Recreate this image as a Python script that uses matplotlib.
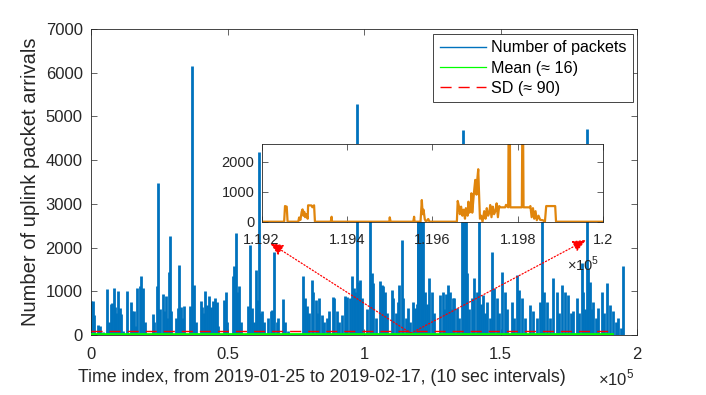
import matplotlib
matplotlib.use("Agg")
import matplotlib.pyplot as plt
from matplotlib.lines import Line2D

plt.rcParams["font.family"] = ["Liberation Sans", "DejaVu Sans"]
plt.rcParams["mathtext.fontset"] = "custom"
plt.rcParams["mathtext.rm"] = "Liberation Sans"

# packet counts (sample index, packets)
spike_idx = [100, 620, 1100, 2560, 3180, 4400, 5860, 6480, 7200, 7690, 8310, 8680, 9280, 9890,
             10500, 11110, 11720, 13190, 14530, 15140, 15750, 16360, 16970, 17830, 18440, 19050,
             19660, 22710, 23080, 24180, 24660, 25150, 26250, 26740, 27350, 27960, 28570, 29060,
             29430, 31250, 31870, 32360, 32850, 33590, 34070, 36260, 37120, 37730, 38340, 40170,
             40780, 41390, 41880, 42610, 43100, 43960, 44570, 45540, 46030, 46640, 48830, 49330,
             49940, 51900, 52380, 53000, 53600, 54330, 54950, 57630, 58360, 58970, 59710, 60440,
             60930, 61420, 61900, 62520, 63490, 64950, 65830, 66190, 67030, 68010, 68620, 70440,
             71060, 72280, 77770, 78500, 79230, 79970, 81070, 81430, 82300, 82900, 83520, 84500,
             85480, 86330, 87290, 88520, 89120, 89990, 90950, 91830, 93040, 93890, 94870, 95730,
             96340, 96830, 97320, 97930, 98530, 99390, 100980, 102200, 103050, 103420, 104270,
             105860, 106470, 107080, 107690, 108300, 110130, 110740, 111720, 112330, 112940,
             113800, 114400, 115270, 115990, 116850, 118070, 118680, 119300, 119750, 119810,
             120300, 120800, 121300, 121600, 122340, 122960, 123910, 124790, 125640, 127840,
             128820, 129410, 130040, 130890, 131500, 132110, 132720, 132970, 133940, 134920,
             135790, 136370, 136870, 137360, 137850, 138570, 139440, 140290, 141280, 142120,
             142860, 143700, 144320, 144950, 146150, 147010, 147730, 148610, 149560, 150660,
             151650, 152500, 154100, 154950, 155930, 156890, 157760, 158970, 160810, 162010,
             163250, 164470, 165080, 165930, 166920, 168130, 169340, 170570, 171430, 172400,
             173630, 174840, 175820, 176670, 178130, 178860, 179740, 180330, 180950, 181570,
             182170, 182780, 183400, 184000, 184980, 185820, 187060, 187910, 188890, 190110,
             191320, 192310, 193150, 194020, 194980]
spike_val = [780, 780, 460, 230, 200, 60, 1055, 300, 720, 727, 1070, 650, 500, 1010,
             610, 475, 100, 1010, 750, 550, 550, 200, 1086, 1110, 1360, 1086,
             300, 490, 300, 1130, 3480, 600, 930, 550, 900, 400, 1450, 2265,
             540, 400, 610, 1600, 630, 400, 665, 665, 6160, 1150, 300, 780,
             630, 500, 1010, 690, 900, 630, 780, 840, 760, 200, 800, 995,
             300, 1340, 1570, 2330, 990, 1130, 300, 665, 2050, 610, 300, 1490,
             800, 4190, 500, 550, 300, 400, 540, 580, 1910, 300, 380, 825,
             300, 100, 1360, 840, 665, 500, 1260, 995, 800, 500, 840, 460,
             300, 380, 540, 880, 840, 540, 300, 460, 900, 880, 840, 1340,
             1070, 995, 5295, 1220, 1260, 840, 600, 3000, 1415, 1190, 400,
             1240, 1150, 1110, 995, 500, 1030, 840, 500, 765, 1150,
             2180, 840, 400, 610, 300, 765, 610, 700, 2900, 2700,
             3200, 2800, 3500, 2600, 995, 700, 1300, 995, 500, 920,
             995, 600, 935, 1150, 995, 600, 840, 840, 610, 400,
             3200, 4680, 3000, 2900, 1415, 600, 840, 1300, 995, 2800,
             700, 920, 500, 765, 400, 1910, 1070, 840, 500, 1450,
             995, 600, 765, 400, 1380, 1030, 840, 400, 690, 540,
             400, 765, 2700, 995, 765, 400, 1300, 995, 500, 1150,
             995, 920, 500, 540, 840, 500, 1645, 995, 600, 4705,
             1530, 1220, 600, 765, 400, 610, 995, 500, 1190, 690,
             540, 300, 380, 150, 1570]

# zoomed window 1.192e5 .. 1.2e5
inset_idx = [119200, 119253, 119255, 119259, 119261, 119286, 119288, 119291, 119294, 119296,
             119298, 119300, 119302, 119305, 119308, 119309, 119317, 119319, 119323, 119325,
             119362, 119364, 119365, 119499, 119500, 119502, 119555, 119557, 119558, 119572,
             119575, 119577, 119579, 119582, 119585, 119590, 119593, 119657, 119659, 119662,
             119664, 119667, 119670, 119673, 119676, 119678, 119682, 119684, 119686, 119689,
             119691, 119693, 119696, 119698, 119700, 119703, 119704, 119707, 119709, 119711,
             119714, 119717, 119721, 119724, 119727, 119730, 119733, 119735, 119738, 119741,
             119744, 119747, 119750, 119753, 119756, 119759, 119770, 119772, 119777, 119778,
             119781, 119782, 119809, 119810, 119812, 119813, 119827, 119829, 119832, 119835,
             119838, 119841, 119844, 119848, 119852, 119858, 119863, 119866, 119887, 119889,
             120000]
inset_val = [0, 0, 520, 500, 0, 0, 140, 60, 330, 410,
             200, 330, 150, 250, 100, 545, 540, 480, 545, 0,
             0, 165, 0, 0, 145, 0, 0, 165, 0, 0,
             720, 250, 400, 80, 0, 90, 0, 0, 690, 500,
             250, 500, 200, 400, 100, 450, 200, 665, 300, 350,
             945, 300, 800, 1110, 1390, 900, 1280, 1745, 900, 100,
             200, 0, 350, 100, 450, 200, 300, 555, 150, 500,
             250, 350, 610, 150, 520, 478, 478, 560, 478, 2900,
             2900, 478, 478, 2900, 2900, 478, 478, 520, 150, 450,
             100, 350, 50, 200, 60, 50, 0, 520, 520, 0,
             0]

mean_val = 16
sd_val = 90
line_end = 190700
series_labels = ["Number of packets", "Mean (≈ 16)", "SD (≈ 90)"]
xticks = [0, 50000, 100000, 150000, 200000]
xticklabels = ["0", "0.5", "1", "1.5", "2"]
inset_xticks = [119200, 119400, 119600, 119800, 120000]
inset_xticklabels = ["1.192", "1.194", "1.196", "1.198", "1.2"]

dark = "#262626"
blue = "#0072BD"
green = "#00FF00"

fig = plt.figure(figsize=(7.06, 3.95), dpi=100)
ax = fig.add_axes([0.1289, 0.1519, 0.7734, 0.7747])
ax.vlines(spike_idx, 0, spike_val, color=blue, lw=2.0, zorder=2)
ax.plot([0, line_end], [mean_val, mean_val], color=green, lw=2, zorder=4)
ax.plot([0, line_end], [sd_val, sd_val], color="red", lw=1.0, dashes=(8, 5), zorder=3)
ax.set_xlim(0, 200000)
ax.set_ylim(0, 7000)
ax.set_xticks(xticks)
ax.set_xticklabels(xticklabels)
ax.set_yticks(range(0, 7001, 1000))
ax.tick_params(direction="in", top=True, right=True, length=4, width=0.5,
               labelsize=12, colors=dark)
ax.tick_params(axis="x", pad=9)
ax.tick_params(axis="y", pad=6)
for s in ax.spines.values():
    s.set_linewidth(0.6)
    s.set_color(dark)
ax.set_xlabel("Time index, from 2019-01-25 to 2019-02-17, (10 sec intervals)",
              fontsize=12.8, color=dark)
ax.xaxis.set_label_coords(0.423, -0.112)
ax.set_ylabel("Number of uplink packet arrivals", fontsize=14.5, color=dark, labelpad=4)
fig.text(0.847, 0.068, r"$\times10^5$", fontsize=12, color=dark, va="top")

# thin legend keys, as in the original
handles = [Line2D([], [], color=blue, lw=1.0),
           Line2D([], [], color=green, lw=0.9),
           Line2D([], [], color="red", lw=1.0, dashes=(8, 5))]
leg = ax.legend(handles, series_labels, loc="upper right", bbox_to_anchor=(0.9927, 0.9837),
                borderaxespad=0, fontsize=11.6, frameon=True, fancybox=False, framealpha=1,
                handlelength=2.9, handletextpad=0.3, borderpad=0.4, labelspacing=0.32)
leg.get_frame().set_edgecolor(dark)
leg.get_frame().set_linewidth(0.6)

# red dotted arrows from the zoomed stretch to the inset
tail = (117200, 40)
for head in [(65570, 2105), (181320, 2173)]:
    ax.annotate("", xy=head, xytext=tail, annotation_clip=False,
                arrowprops=dict(arrowstyle="-|>,head_length=0.8,head_width=0.35",
                                color="red", lw=0.9, linestyle=":", shrinkA=0, shrinkB=0))

ins = fig.add_axes([0.3704, 0.4387, 0.4844, 0.198])
ins.plot(inset_idx, inset_val, color="#E0850C", lw=1.6)
ins.set_xlim(119200, 120000)
ins.set_ylim(0, 2600)
ins.set_xticks(inset_xticks)
ins.set_xticklabels(inset_xticklabels)
ins.set_yticks([0, 1000, 2000])
ins.tick_params(direction="in", top=True, right=True, length=4, width=0.5,
                labelsize=10.5, colors=dark)
ins.tick_params(axis="x", pad=8)
ins.tick_params(axis="y", pad=5)
for s in ins.spines.values():
    s.set_linewidth(0.6)
    s.set_color(dark)
fig.text(0.803, 0.355, r"$\times10^5$", fontsize=10.5, color=dark, va="top")

fig.savefig("out.png", dpi=100)
